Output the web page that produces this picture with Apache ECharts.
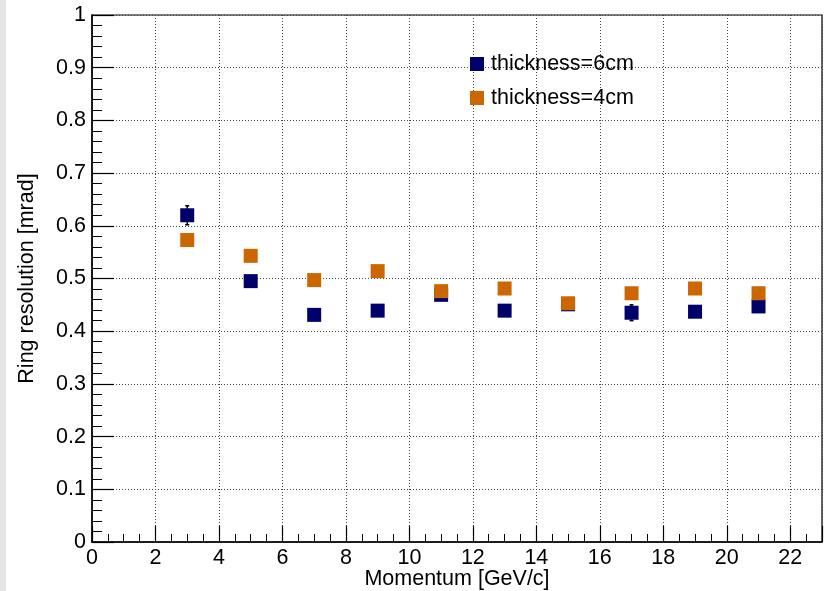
<!DOCTYPE html>
<html>
<head>
<meta charset="utf-8">
<script src="https://cdn.jsdelivr.net/npm/echarts@6/dist/echarts.min.js"></script>
<style>
html,body{margin:0;padding:0;background:#fff;}
#strip{position:absolute;left:0;top:0;width:6px;height:591px;background:#e6e6e6;}
#chart{position:absolute;left:0;top:0;width:827px;height:591px;}
</style>
</head>
<body>
<div id="strip"></div>
<div id="chart"></div>
<script>
const momentum = [3, 5, 7, 9, 11, 13, 15, 17, 19, 21];
const res6cm = [0.620, 0.495, 0.431, 0.439, 0.469, 0.439, 0.451, 0.435, 0.437, 0.447];
const err6cm = [0.018, 0.005, 0.005, 0.005, 0.008, 0.005, 0.005, 0.015, 0.005, 0.005];
const res4cm = [0.573, 0.543, 0.497, 0.514, 0.476, 0.481, 0.453, 0.472, 0.481, 0.472];
const err4cm = [0.005, 0.005, 0.005, 0.005, 0.005, 0.005, 0.005, 0.005, 0.005, 0.005];
const seriesNames = ['thickness=6cm', 'thickness=4cm'];
const colors = ['#00006b', '#cc6600'];

const FONT = 'Liberation Sans, Arial, sans-serif';
const FS = 21.5;
const chart = echarts.init(document.getElementById('chart'), null, {renderer: 'canvas'});

function pts(vals) { return momentum.map((m, i) => [m, vals[i]]); }
function errData(vals, errs) { return momentum.map((m, i) => [m, vals[i], errs[i]]); }

function errRender() {
  return function (params, api) {
    const x = api.value(0), y = api.value(1), e = api.value(2);
    const lo = api.coord([x, y - e]);
    const hi = api.coord([x, y + e]);
    const cap = 2;
    const style = {stroke: '#000', lineWidth: 1.5};
    return {
      type: 'group',
      children: [
        {type: 'line', shape: {x1: lo[0], y1: lo[1], x2: hi[0], y2: hi[1]}, style},
        {type: 'line', shape: {x1: lo[0] - cap, y1: lo[1], x2: lo[0] + cap, y2: lo[1]}, style},
        {type: 'line', shape: {x1: hi[0] - cap, y1: hi[1], x2: hi[0] + cap, y2: hi[1]}, style}
      ]
    };
  };
}

const option = {
  animation: false,
  textStyle: {fontFamily: FONT},
  grid: {left: 92, right: 5, top: 15, bottom: 49, outerBoundsMode: 'none', containLabel: false,
    show: true, borderColor: '#000', borderWidth: 1.2, backgroundColor: 'transparent'},
  legend: {
    data: seriesNames,
    orient: 'vertical',
    left: 465,
    top: 48,
    itemWidth: 14,
    itemHeight: 14,
    itemGap: 12,
    icon: 'rect',
    textStyle: {fontSize: FS, color: '#000', fontFamily: FONT, padding: [0, 0, 0, 2]}
  },
  xAxis: {
    type: 'value', min: 0, max: 23, interval: 2,
    name: 'Momentum [GeV/c]', nameLocation: 'middle', nameGap: 26, nameMoveOverlap: false,
    nameTextStyle: {fontSize: FS, color: '#000', fontFamily: FONT},
    axisLine: {onZero: false, lineStyle: {color: '#000', width: 1.5}},
    axisTick: {inside: true, length: 16, lineStyle: {color: '#000', width: 1.2}},
    minorTick: {show: true, splitNumber: 4, length: 8, lineStyle: {color: '#000', width: 1}},
    axisLabel: {fontSize: FS, color: '#000', margin: 5, fontFamily: FONT,
      formatter: v => (v > 22 ? '' : String(v))},
    splitLine: {show: true, lineStyle: {color: '#444', type: [1, 2], width: 1}}
  },
  yAxis: {
    type: 'value', min: 0, max: 1, interval: 0.1,
    name: 'Ring resolution [mrad]', nameLocation: 'middle', nameGap: 54, nameMoveOverlap: false,
    nameTextStyle: {fontSize: FS, color: '#000', fontFamily: FONT},
    axisLine: {onZero: false, lineStyle: {color: '#000', width: 1.5}},
    axisTick: {inside: true, length: 22, lineStyle: {color: '#000', width: 1.2}},
    minorTick: {show: true, splitNumber: 5, length: 10, lineStyle: {color: '#000', width: 1}},
    axisLabel: {fontSize: FS, color: '#000', margin: 6, fontFamily: FONT,
      formatter: v => String(parseFloat(v.toFixed(1)))},
    splitLine: {show: true, lineStyle: {color: '#444', type: [1, 2], width: 1}}
  },
  series: [
    {type: 'custom', name: 'err6', renderItem: errRender(), data: errData(res6cm, err6cm), z: 1, encode: {x: 0, y: 1}, silent: true},
    {type: 'scatter', name: seriesNames[0], data: pts(res6cm), symbol: 'rect', symbolSize: 14, itemStyle: {color: colors[0], opacity: 1}, z: 2},
    {type: 'custom', name: 'err4', renderItem: errRender(), data: errData(res4cm, err4cm), z: 3, encode: {x: 0, y: 1}, silent: true},
    {type: 'scatter', name: seriesNames[1], data: pts(res4cm), symbol: 'rect', symbolSize: 14, itemStyle: {color: colors[1], opacity: 1}, z: 4}
  ]
};
chart.setOption(option);
</script>
</body>
</html>
